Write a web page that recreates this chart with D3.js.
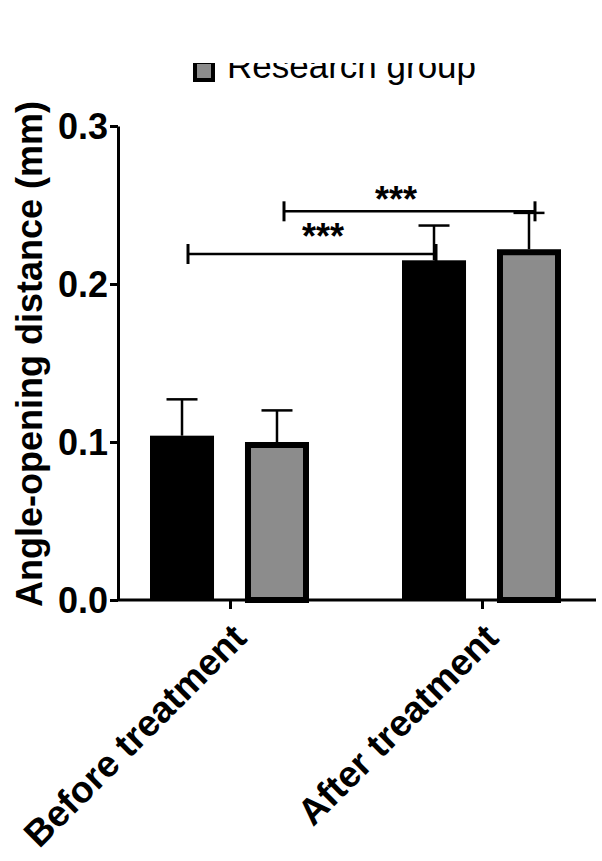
<!DOCTYPE html>
<html><head><meta charset="utf-8">
<script src="https://cdn.jsdelivr.net/npm/d3@7"></script>
<style>body{margin:0;background:#fff}svg{display:block}</style>
</head><body>
<script>
const categories = ["Before treatment", "After treatment"];
const groups = ["Control group", "Research group"];
const means = [[0.104, 0.100], [0.215, 0.222]];
const errors = [[0.023, 0.020], [0.022, 0.023]];
const yTicks = [0.0, 0.1, 0.2, 0.3];
const sigLabels = ["***", "***"];
const colors = ["#000000", "#8c8c8c"];

const W = 602, H = 861;
const svg = d3.select("body").append("svg").attr("width", W).attr("height", H);
const font = "Arial, 'Liberation Sans', sans-serif";

const y = d3.scaleLinear().domain([0, 0.3]).range([600, 126]);
const x0 = d3.scalePoint().domain(categories).range([230, 482]);
const x1 = d3.scaleBand().domain(groups).range([-80, 79]).paddingInner(0.326);

// legend (cropped at top in the original)
svg.append("clipPath").attr("id","lc").append("rect").attr("x",0).attr("y",63).attr("width",W).attr("height",40);
const lg = svg.append("g").attr("clip-path","url(#lc)");
lg.append("rect").attr("x",195).attr("y",62).attr("width",18).attr("height",18)
  .attr("fill",colors[1]).attr("stroke","#000").attr("stroke-width",4);
lg.append("text").attr("x",227).attr("y",78).attr("font-family",font).attr("font-size",35)
  .attr("fill","#000").text(groups[1]);

// bars
categories.forEach((c, i) => {
  groups.forEach((g, j) => {
    const bx = x0(c) + x1(g), bw = x1.bandwidth();
    const top = y(means[i][j]);
    const et = y(means[i][j] + errors[i][j]);
    const cx = bx + bw/2;
    svg.append("line").attr("x1",cx).attr("x2",cx).attr("y1",top).attr("y2",et)
      .attr("stroke","#000").attr("stroke-width",2.5);
    svg.append("line").attr("x1",cx-15.5).attr("x2",cx+15.5).attr("y1",et).attr("y2",et)
      .attr("stroke","#000").attr("stroke-width",2.5);
    if (j === 0) {
      svg.append("rect").attr("x",bx).attr("y",top).attr("width",bw).attr("height",y(0)-top)
        .attr("fill",colors[0]);
    } else {
      svg.append("rect").attr("x",bx+3).attr("y",top+3).attr("width",bw-6).attr("height",y(0)-top-3)
        .attr("fill",colors[1]).attr("stroke","#000").attr("stroke-width",6);
    }
  });
});

// significance brackets
function bracket(xa, xb, yy, label, lx, ly) {
  svg.append("line").attr("x1",xa).attr("x2",xb).attr("y1",yy).attr("y2",yy).attr("stroke","#000").attr("stroke-width",2.5);
  [xa, xb].forEach(xx => svg.append("line").attr("x1",xx).attr("x2",xx).attr("y1",yy-10).attr("y2",yy+10)
    .attr("stroke","#000").attr("stroke-width",3));
  svg.append("text").attr("x",lx).attr("y",ly).attr("text-anchor","middle").attr("font-family",font)
    .attr("font-size",36).attr("font-weight","bold").attr("fill","#000").text(label);
}
const cxOf = (i,j) => x0(categories[i]) + x1(groups[j]) + x1.bandwidth()/2;
const b1 = y(0.219), b2 = y(0.246);
bracket(cxOf(0,0)+6, cxOf(1,0)+2, b1, sigLabels[0], 323, b1 - 5);
bracket(284, cxOf(1,1)+6, b2, sigLabels[1], 396, b2 + 1);

// y axis
const ya = svg.append("g").attr("transform","translate(118,0)")
  .call(d3.axisLeft(y).tickValues(yTicks).tickFormat(d3.format(".1f")).tickSize(8).tickSizeOuter(0));
ya.select(".domain").attr("stroke","#000").attr("stroke-width",3);
ya.selectAll(".tick line").attr("stroke","#000").attr("stroke-width",3);
ya.selectAll(".tick text").attr("font-family",font).attr("font-size",36).attr("font-weight","bold")
  .attr("fill","#000").attr("x",-10).attr("dy","0.36em");

// x axis
const xa = svg.append("g").attr("transform","translate(0,600)")
  .call(d3.axisBottom(x0).tickSize(9).tickSizeOuter(0));
xa.select(".domain").attr("stroke","#000").attr("stroke-width",3).attr("d","M117,0H596");
xa.selectAll(".tick line").attr("stroke","#000").attr("stroke-width",3);
xa.selectAll(".tick text").attr("font-family",font).attr("font-size",37).attr("font-weight","bold")
  .attr("fill","#000").attr("text-anchor","end").attr("dy",0).attr("y",0)
  .attr("transform","translate(18,40) rotate(-45)");

// y title
svg.append("text").attr("transform","translate(42,354) rotate(-90)").attr("text-anchor","middle")
  .attr("font-family",font).attr("font-size",36).attr("font-weight","bold").attr("fill","#000")
  .text("Angle-opening distance (mm)");
</script>
</body></html>
